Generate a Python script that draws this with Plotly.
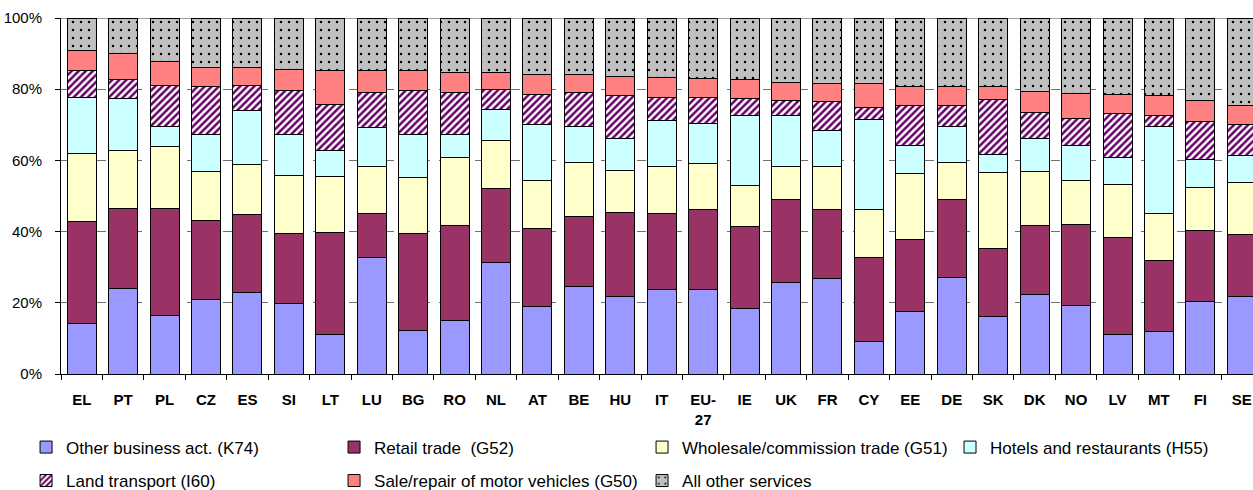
import plotly.graph_objects as go

# Country codes along the x axis
countries = ["EL", "PT", "PL", "CZ", "ES", "SI", "LT", "LU", "BG", "RO", "NL", "AT", "BE", "HU", "IT",
             "EU-27", "IE", "UK", "FR", "CY", "EE", "DE", "SK", "DK", "NO", "LV", "MT", "FI", "SE"]
country_labels = [c if c != "EU-27" else "EU-<br>27" for c in countries]

# Shares of employment by sector (%)
other_business_k74 = [14.2, 24.0, 16.5, 21.0, 22.9, 19.9, 11.1, 32.6, 12.2, 14.9, 31.3, 19.1, 24.5, 21.7, 23.7,
                      23.7, 18.3, 25.6, 26.8, 9.2, 17.5, 27.2, 16.1, 22.3, 19.2, 11.1, 11.9, 20.3, 21.8]
retail_g52 = [28.7, 22.6, 30.1, 22.2, 21.8, 19.5, 28.7, 12.6, 27.2, 26.8, 20.8, 21.9, 19.8, 23.8, 21.4,
              22.6, 23.0, 23.4, 19.5, 23.4, 20.4, 21.8, 19.2, 19.4, 22.9, 27.2, 19.9, 19.9, 17.3]
wholesale_g51 = [19.1, 16.2, 17.3, 13.8, 14.2, 16.5, 15.7, 13.0, 15.7, 19.2, 13.4, 13.4, 15.0, 11.8, 13.1,
                 12.7, 11.6, 9.2, 11.9, 13.7, 18.4, 10.3, 21.4, 15.3, 12.3, 14.9, 13.4, 12.3, 14.6]
hotels_h55 = [15.6, 14.5, 5.7, 10.4, 15.0, 11.5, 7.3, 11.0, 12.3, 6.4, 8.8, 15.6, 10.3, 8.9, 12.9,
              11.3, 19.7, 14.4, 10.3, 25.3, 8.0, 10.3, 4.9, 9.2, 9.9, 7.7, 24.4, 7.7, 7.6]
land_transport_i60 = [7.7, 5.4, 11.5, 13.4, 7.2, 12.3, 13.0, 10.0, 12.3, 11.7, 5.6, 8.5, 9.4, 11.9, 6.6,
                      7.4, 4.8, 4.3, 8.0, 3.4, 11.1, 5.8, 15.4, 7.3, 7.6, 12.3, 3.1, 10.6, 8.8]
motor_vehicles_g50 = [5.7, 7.2, 6.6, 5.3, 5.0, 5.9, 9.4, 6.0, 5.5, 5.7, 4.8, 5.6, 5.1, 5.4, 5.6,
                      5.3, 5.2, 5.0, 5.1, 6.6, 5.4, 5.4, 3.8, 5.8, 7.0, 5.3, 5.4, 6.1, 5.3]
all_other_services = [9.0, 10.1, 12.3, 13.9, 13.9, 14.4, 14.8, 14.8, 14.8, 15.3, 15.3, 15.9, 15.9, 16.5, 16.7,
                      17.0, 17.4, 18.1, 18.4, 18.4, 19.2, 19.2, 19.2, 20.7, 21.1, 21.5, 21.9, 23.1, 24.6]

y_ticks = [0, 20, 40, 60, 80, 100]
y_tick_labels = ["0%", "20%", "40%", "60%", "80%", "100%"]

FONT = "Liberation Sans, Arial, sans-serif"
outline = dict(color="#000000", width=1)

series = [
    ("Other business act. (K74)", other_business_k74, dict(color="#9999FF", line=outline), "legend"),
    ("Retail trade  (G52)", retail_g52, dict(color="#993366", line=outline), "legend"),
    ("Wholesale/commission trade (G51)", wholesale_g51, dict(color="#FFFFCC", line=outline), "legend"),
    ("Hotels and restaurants (H55)", hotels_h55, dict(color="#CCFFFF", line=outline), "legend3"),
    ("Land transport (I60)", land_transport_i60,
     dict(color="#FFFFFF", line=outline,
          pattern=dict(shape="/", fgcolor="#660066", bgcolor="#FFFFFF", size=5, solidity=0.5, fillmode="replace")),
     "legend2"),
    ("Sale/repair of motor vehicles (G50)", motor_vehicles_g50, dict(color="#FF8080", line=outline), "legend2"),
    ("All other services", all_other_services,
     dict(color="#C0C0C0", line=outline,
          pattern=dict(shape=".", fgcolor="#000000", bgcolor="#C0C0C0", size=8, solidity=0.08, fillmode="replace")),
     "legend2"),
]

fig = go.Figure()
for name, values, marker, leg in series:
    fig.add_trace(go.Bar(x=countries, y=values, name=name, marker=marker, legend=leg))

legend_common = dict(
    orientation="h", xref="container", yref="container", xanchor="left", yanchor="middle",
    font=dict(family=FONT, size=17, color="#000000"),
    entrywidth=263, itemwidth=30, bgcolor="rgba(0,0,0,0)", traceorder="normal",
)

fig.update_layout(
    width=1253, height=490,
    margin=dict(l=61, r=0, t=18, b=116, autoexpand=False),
    barmode="stack", bargap=0.3,
    plot_bgcolor="#FFFFFF", paper_bgcolor="#FFFFFF",
    showlegend=True,
    legend=dict(x=0.0208, y=0.0867, **legend_common),
    legend3=dict(x=0.7582, y=0.0867, **legend_common),
    legend2=dict(x=0.0208, y=0.0184, **legend_common),
    xaxis=dict(
        type="category", tickmode="array", tickvals=countries, ticktext=country_labels,
        range=[-0.5, 28.27], tickson="boundaries", ticks="outside", ticklen=5, tickcolor="#000000",
        showline=True, linecolor="#000000", linewidth=1, showgrid=False,
        tickfont=dict(family=FONT, size=15, color="#000000", weight="bold"), tickangle=0,
        ticklabelstandoff=12, automargin=False,
    ),
    yaxis=dict(
        range=[0, 100], tickmode="array", tickvals=y_ticks, ticktext=y_tick_labels,
        ticks="outside", ticklen=5, tickcolor="#000000",
        showline=True, linecolor="#000000", linewidth=1,
        showgrid=True, gridcolor="#707070", griddash="dash", gridwidth=1,
        tickfont=dict(family=FONT, size=15, color="#000000"), ticklabelstandoff=10,
        zeroline=False, automargin=False,
    ),
)

# solid top border of the plotting area
fig.add_shape(type="line", xref="paper", yref="y", x0=0, x1=1, y0=100, y1=100,
              line=dict(color="#A0A0A0", width=2), layer="below")

fig.write_html("out.html")
